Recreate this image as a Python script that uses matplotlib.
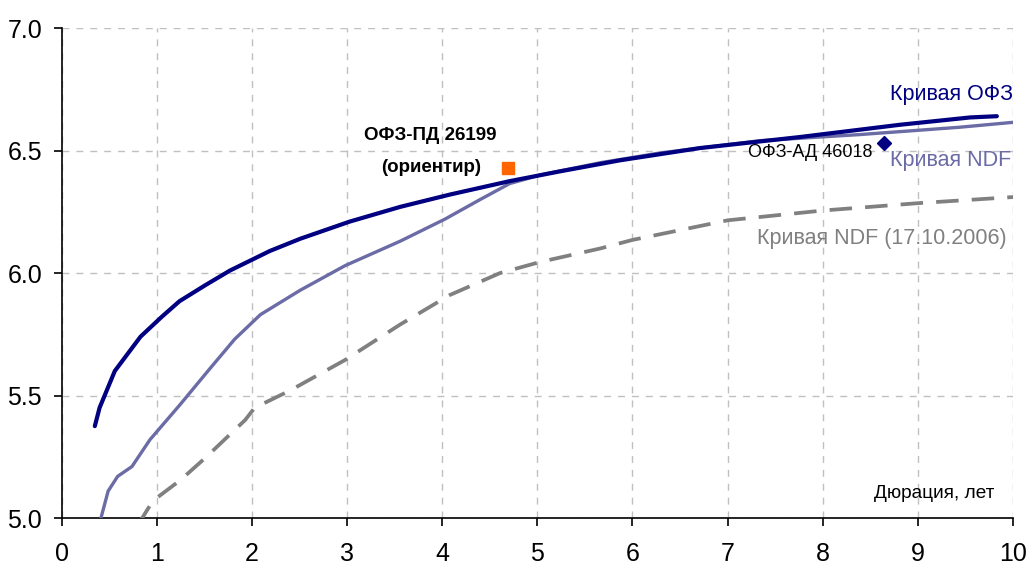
import numpy as np
import matplotlib.pyplot as plt

plt.rcParams['font.family'] = ['Liberation Sans', 'DejaVu Sans']

# duration (years) vs yield (%)
ofz_x = [0.35, 0.40, 0.56, 0.83, 1.05, 1.24, 1.51, 1.77, 2.19, 2.51, 3.03, 3.56, 4.08,
         4.71, 5.24, 5.87, 6.71, 7.76, 8.81, 9.55, 9.83]
ofz_y = [5.375, 5.45, 5.60, 5.74, 5.82, 5.885, 5.95, 6.01, 6.09, 6.14, 6.21, 6.27, 6.32,
         6.375, 6.415, 6.46, 6.51, 6.555, 6.605, 6.635, 6.64]

ndf_x = [0.38, 0.49, 0.59, 0.74, 0.93, 1.24, 1.56, 1.82, 2.09, 2.51, 2.98, 3.56, 4.03,
         4.40, 4.71, 5.03, 5.66, 6.29, 7.34, 8.39, 9.44, 10.0]
ndf_y = [4.95, 5.11, 5.17, 5.21, 5.32, 5.46, 5.61, 5.73, 5.83, 5.93, 6.03, 6.13, 6.22,
         6.30, 6.365, 6.40, 6.45, 6.49, 6.54, 6.565, 6.595, 6.615]

ndf_old_x = [0.80, 0.96, 1.25, 1.51, 1.93, 2.03, 2.40, 2.98, 3.56, 4.08, 4.61, 5.03, 5.66,
             6.0, 7.0, 8.0, 9.0, 10.0]
ndf_old_y = [4.97, 5.07, 5.155, 5.245, 5.40, 5.45, 5.52, 5.645, 5.79, 5.91, 6.00, 6.045,
             6.10, 6.135, 6.215, 6.255, 6.285, 6.31]

ofz_pd_26199 = (4.69, 6.43)
ofz_ad_46018 = (8.64, 6.53)

fig = plt.figure(figsize=(10.27, 5.68), dpi=100)
ax = fig.add_axes([0.0599, 0.088, 0.9265, 0.8627])

ax.plot(ndf_old_x, ndf_old_y, color='#808080', lw=2.7, dashes=(6, 3.5), zorder=3)
ax.plot(ndf_x, ndf_y, color='#6B6BA6', lw=2.4, zorder=4)
ax.plot(ofz_x, ofz_y, color='#000080', lw=3, solid_capstyle='round', zorder=5)
ax.plot(*ofz_pd_26199, marker='s', ms=9, color='#FF6600', ls='none', zorder=6)
ax.plot(*ofz_ad_46018, marker='D', ms=7, color='#000080', ls='none', zorder=6)

ax.set_xlim(0, 10)
ax.set_ylim(5.0, 7.0)
ax.set_xticks(range(0, 11))
ax.set_yticks([5.0, 5.5, 6.0, 6.5, 7.0])
ax.set_yticklabels(['5.0', '5.5', '6.0', '6.5', '7.0'])
ax.tick_params(labelsize=18, length=6, width=1.2, direction='out')
ax.tick_params(axis='x', pad=11)
ax.tick_params(axis='y', pad=8)
ax.grid(True, color='#C0C0C0', ls=(0, (5, 5)), lw=1)
ax.set_axisbelow(True)
for s in ['top', 'right']:
    ax.spines[s].set_visible(False)
for s in ['left', 'bottom']:
    ax.spines[s].set_linewidth(1.2)

ax.text(3.88, 6.56, 'ОФЗ-ПД 26199', fontsize=13.5, fontweight='bold', ha='center', va='center')
ax.text(3.88, 6.43, '(ориентир)', fontsize=13.5, fontweight='bold', ha='center', va='center')
ax.text(8.52, 6.49, 'ОФЗ-АД 46018', fontsize=13, ha='right', va='center')
ax.text(10.0, 6.73, 'Кривая ОФЗ', fontsize=15.5, color='#000080', ha='right', va='center')
ax.text(9.98, 6.46, 'Кривая NDF', fontsize=15.5, color='#6B6BA6', ha='right', va='center')
ax.text(9.93, 6.14, 'Кривая NDF (17.10.2006)', fontsize=15.5, color='#808080', ha='right', va='center')
ax.text(9.8, 5.1, 'Дюрация, лет', fontsize=13.7, ha='right', va='center')

plt.savefig('out.png', dpi=100)
